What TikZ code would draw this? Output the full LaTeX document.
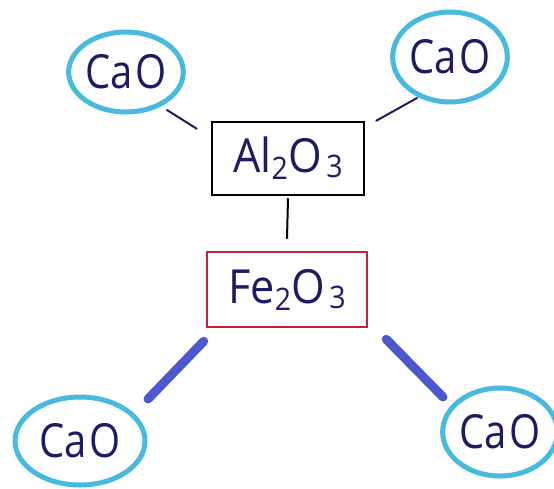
\documentclass[tikz,border=0pt]{standalone}
\usepackage{fontspec}
\setmainfont{Open Sans}
\usetikzlibrary{shapes.geometric}
\definecolor{ink}{RGB}{28,28,100}
\definecolor{ringcol}{RGB}{72,186,222}
\definecolor{bondblue}{RGB}{78,88,205}
\definecolor{ferred}{RGB}{196,36,58}
% lowered, smaller digit used in the formulas
\newcommand{\lowfig}[2][-7pt]{\raisebox{#1}{\fontsize{31}{31}\selectfont #2}}
\newcommand{\bigtext}{\fontsize{47}{50}\selectfont}
\newcommand{\narrow}[2][0.85]{\scalebox{#1}[1]{#2}}

\begin{document}
\begin{tikzpicture}[x=1pt,y=-1pt,
  ring/.style={ellipse, draw=ringcol, line width=5pt, inner sep=0pt,
    text=ink, font=\bigtext},
  oxide/.style={rectangle, line width=2.5pt, inner sep=0pt,
    text=ink, font=\bigtext},
  link/.style={draw=ink, line width=2pt, line cap=round},
  bond/.style={draw=bondblue, line width=9pt, line cap=round}]
\useasboundingbox (0,0) rectangle (554,488);
\fill[white] (0,0) rectangle (554,488);

% oxide boxes
\node[oxide, draw=black, minimum width=152pt, minimum height=73pt]
  (al) at (288,158.5) {\narrow[0.92]{Al\lowfig{2}O\kern5pt\lowfig[-5pt]{3}}};
\node[oxide, draw=ferred, minimum width=160pt, minimum height=75pt]
  (fe) at (287,289.5) {\narrow[0.92]{Fe\lowfig{2}O\kern5pt\lowfig[-5pt]{3}}};

% CaO rings
\node[ring, minimum width=112pt, minimum height=80pt] (tl) at (126,72) {\narrow{Ca\kern3pt O}};
\node[ring, minimum width=110pt, minimum height=90pt] (tr) at (450,57) {\narrow{Ca\kern3pt O}};
\node[ring, minimum width=130pt, minimum height=88pt] (bl) at (80,441) {\narrow{Ca\kern3pt O}};
\node[ring, minimum width=106pt, minimum height=88pt] (br) at (500,432) {\narrow{Ca\kern3pt O}};

% thin links to the alumina box
\draw[link] ([xshift=41pt,yshift=-38pt]tl.center) -- ([xshift=-14pt,yshift=-8pt]al.north west);
\draw[link] ([xshift=-33pt,yshift=-41pt]tr.center) -- ([xshift=11pt]al.north east);
\draw[draw=black, line width=2pt] ([yshift=-2pt]al.south) -- ([yshift=12pt]fe.north);

% thick bonds from the ferric oxide box
\draw[bond] ([xshift=-2pt,yshift=-13pt]fe.south west) -- ([xshift=68pt,yshift=42pt]bl.center);
\draw[bond] ([xshift=18pt,yshift=-11pt]fe.south east) -- ([xshift=-57pt,yshift=35pt]br.center);
\end{tikzpicture}
\end{document}
